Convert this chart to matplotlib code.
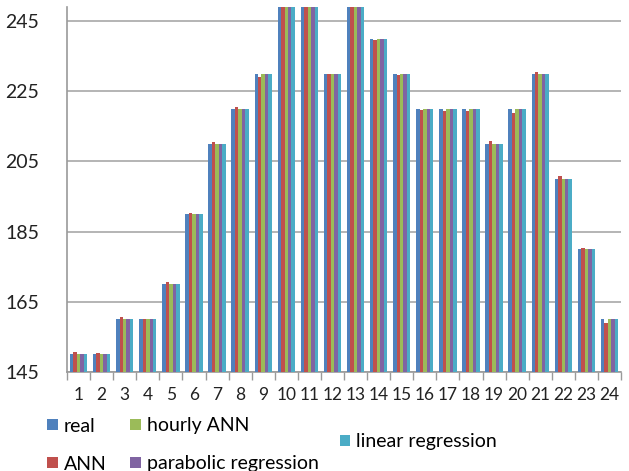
import numpy as np
import matplotlib.pyplot as plt

plt.rcParams['font.family'] = ['Lato', 'DejaVu Sans']

hours = [str(h) for h in range(1, 25)]
real = [150, 150, 160, 160, 170, 190, 210, 220, 230, 250, 250, 230,
        250, 240, 230, 220, 220, 220, 210, 220, 230, 200, 180, 160]
ann = [150.6, 150.4, 160.8, 160, 170.6, 190.3, 210.4, 220.6, 229.1, 250, 250, 230,
       250, 239.7, 229.7, 219.7, 219.4, 219.4, 210.9, 218.9, 230.6, 200.9, 180.4, 159.1]
hourly_ann = list(real)
parabolic = list(real)
linear = list(real)

series = [("real", real, "#4F81BD"),
          ("ANN", ann, "#C0504D"),
          ("hourly ANN", hourly_ann, "#9BBB59"),
          ("parabolic regression", parabolic, "#8064A2"),
          ("linear regression", linear, "#4BACC6")]

fig = plt.figure(figsize=(6.29, 4.71), dpi=100)
ax = fig.add_axes([67 / 629, 1 - 372 / 471, (621 - 67) / 629, (372 - 7) / 471])

x = np.arange(len(hours))
w = 0.15
handles = []
for i, (name, vals, col) in enumerate(series):
    b = ax.bar(x + (i - 2) * w, vals, w, color=col, label=name, zorder=3)
    handles.append(b)

ax.set_ylim(145, 249)
ax.set_xlim(-0.5, len(hours) - 0.5)
ax.set_yticks([145, 165, 185, 205, 225, 245])
ax.yaxis.grid(True, color="#B4B4B4", linewidth=1.4, zorder=0)
ax.tick_params(axis="y", length=0, labelsize=14, pad=20, colors="#222222")

ax.set_xticks(x)
ax.set_xticklabels(hours)
ax.set_xticks(np.arange(-0.5, len(hours), 1), minor=True)
ax.tick_params(axis="x", which="major", length=0, labelsize=12.5, pad=11, colors="#222222")
ax.tick_params(axis="x", which="minor", length=6, color="#9A9A9A", width=1)

for s in ["top", "right"]:
    ax.spines[s].set_visible(False)
for s in ["left", "bottom"]:
    ax.spines[s].set_color("#9A9A9A")
    ax.spines[s].set_linewidth(1.2)

# legend laid out like the original Excel one
leg_pos = [(0.075, 1 - 426 / 471), (0.075, 1 - 464 / 471),
           (0.207, 1 - 426 / 471), (0.207, 1 - 464 / 471),
           (0.540, 1 - 442 / 471)]
for h, (name, _, _), (lx, ly) in zip(handles, series, leg_pos):
    fig.legend([h], [name], loc="center left", bbox_to_anchor=(lx, ly),
               frameon=False, fontsize=14, handlelength=0.55, handleheight=0.55,
               handletextpad=0.3, borderpad=0, borderaxespad=0)

fig.savefig("out.png", dpi=100)
